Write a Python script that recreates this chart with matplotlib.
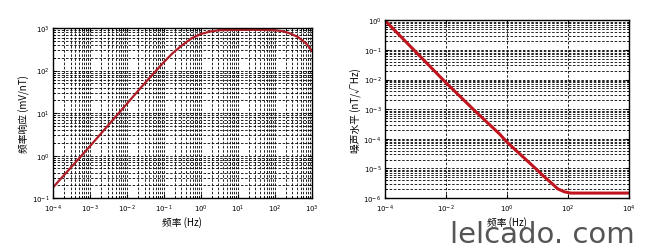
import numpy as np
import matplotlib
matplotlib.use("Agg")
import matplotlib.pyplot as plt
from matplotlib.ticker import LogLocator, NullLocator, NullFormatter

plt.rcParams['font.family'] = ['Noto Sans CJK SC', 'DejaVu Sans']
plt.rcParams['axes.unicode_minus'] = False

# left panel: frequency response (as log10)
resp_freq_exp = [-4, -3, -2, -1.5, -1, -0.75, -0.5, -0.25, 0, 0.25, 0.5,
                 1, 1.5, 2, 2.2, 2.4, 2.63, 2.86, 3]
resp_val_exp = [-0.75, 0.22, 1.22, 1.72, 2.2, 2.42, 2.6, 2.76, 2.86, 2.92, 2.95,
                2.96, 2.96, 2.95, 2.93, 2.88, 2.79, 2.63, 2.47]

# right panel: noise level
noise_freq_exp = [-4, -3, -2, -1, -0.23, 0, 1, 1.19, 1.5, 1.68, 1.9, 2.11, 3, 4]
noise_val_exp = [0, -1.05, -2.1, -3.1, -3.84, -4.1, -5.05, -5.24, -5.52, -5.69,
                 -5.79, -5.83, -5.83, -5.83]

left_xticks = [1e-4, 1e-3, 1e-2, 1e-1, 1e0, 1e1, 1e2, 1e3]
left_yticks = [1e-1, 1e0, 1e1, 1e2, 1e3]
right_xticks = [1e-4, 1e-2, 1e0, 1e2, 1e4]
right_yticks = [1e-6, 1e-5, 1e-4, 1e-3, 1e-2, 1e-1, 1e0]

fig = plt.figure(figsize=(6.5, 2.53), dpi=100)
ax1 = fig.add_axes([0.0815, 0.213, 0.398, 0.672])
ax2 = fig.add_axes([0.592, 0.213, 0.375, 0.703])

def tick_label(v):
    return r'$10^{%d}$' % int(round(np.log10(v)))

# left
ax1.plot(10.0 ** np.array(resp_freq_exp), 10.0 ** np.array(resp_val_exp),
         color='#b01e28', lw=1.6)
ax1.set_xscale('log')
ax1.set_yscale('log')
ax1.set_xlim(1e-4, 1e3)
ax1.set_ylim(1e-1, 1e3)
ax1.set_xticks(left_xticks)
ax1.set_xticklabels([tick_label(v) for v in left_xticks])
ax1.set_yticks(left_yticks)
ax1.set_yticklabels([tick_label(v) for v in left_yticks])
for axis in (ax1.xaxis, ax1.yaxis):
    axis.set_minor_locator(LogLocator(base=10, subs=np.arange(2, 10), numticks=50))
    axis.set_minor_formatter(NullFormatter())
ax1.grid(True, which='both', color='black', ls=(0, (3, 2)), lw=0.6)
ax1.set_xlabel('频率 (Hz)', fontsize=7, labelpad=1)
ax1.set_ylabel('频率响应 (mV/nT)', fontsize=7, labelpad=1)

# right
ax2.plot(10.0 ** np.array(noise_freq_exp), 10.0 ** np.array(noise_val_exp),
         color='#c0141e', lw=2.2)
ax2.set_xscale('log')
ax2.set_yscale('log')
ax2.set_xlim(1e-4, 1e4)
ax2.set_ylim(1e-6, 1e0)
ax2.set_xticks(right_xticks)
ax2.set_xticklabels([tick_label(v) for v in right_xticks])
ax2.set_yticks(right_yticks)
ax2.set_yticklabels([tick_label(v) for v in right_yticks])
ax2.xaxis.set_minor_locator(NullLocator())
ax2.yaxis.set_minor_locator(LogLocator(base=10, subs=np.arange(2, 10), numticks=50))
ax2.yaxis.set_minor_formatter(NullFormatter())
ax2.grid(True, which='major', axis='x', color='black', ls=(0, (3, 2)), lw=0.6)
ax2.grid(True, which='both', axis='y', color='black', ls=(0, (3, 2)), lw=0.6)
ax2.set_xlabel('频率 (Hz)', fontsize=7, labelpad=1)
ax2.set_ylabel('噪声水平 (nT/√Hz)', fontsize=7, labelpad=1)

for ax in (ax1, ax2):
    ax.tick_params(which='both', direction='in', labelsize=5,
                   top=True, right=True)
    ax.tick_params(axis='x', pad=3.5)
    ax.tick_params(axis='y', pad=2.5)
    ax.tick_params(which='major', length=3)
    ax.tick_params(which='minor', length=1.5)
    for sp in ax.spines.values():
        sp.set_linewidth(1.0)

# watermark
fig.text(0.693, 0.04, 'lelcado. com', fontsize=21, color='#555555',
         family='DejaVu Sans')

fig.savefig('out.png', dpi=100, facecolor='white')
